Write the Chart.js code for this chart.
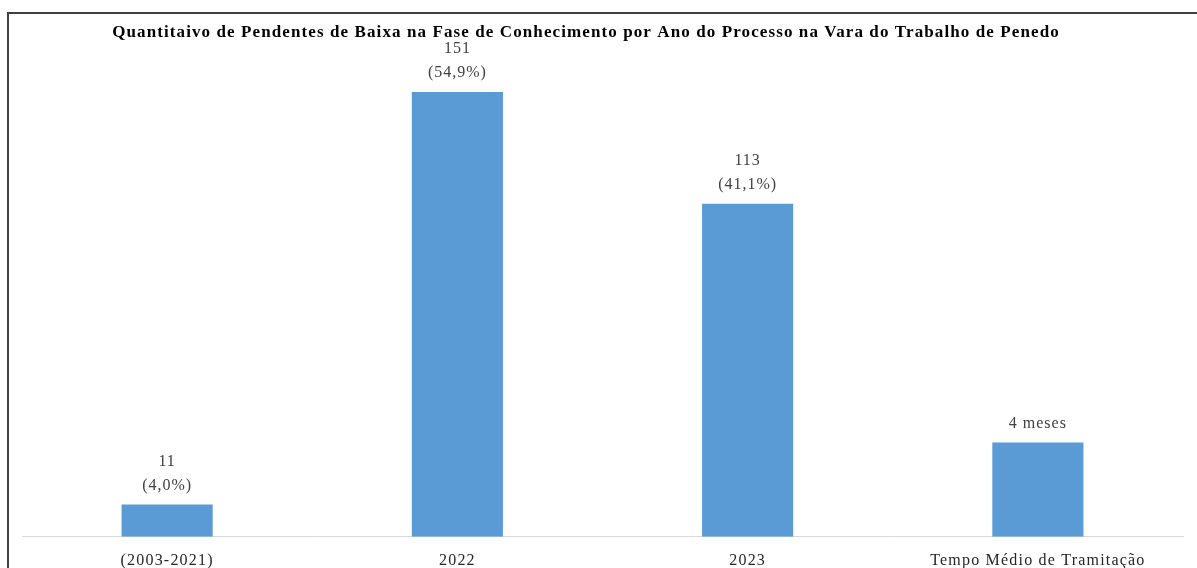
<!DOCTYPE html>
<html>
<head>
<meta charset="utf-8">
<script src="https://cdn.jsdelivr.net/npm/chart.js@4/dist/chart.umd.min.js"></script>
<style>
  html, body { margin: 0; padding: 0; background: #fff; overflow: hidden; }
  #wrap { position: relative; width: 1197px; height: 568px; overflow: hidden; }
  #frame {
    position: absolute; left: 7px; top: 12px; width: 1300px; height: 700px;
    border-left: 2px solid #404040; border-top: 2px solid #404040;
    pointer-events: none;
  }
  canvas { position: absolute; left: 0; top: 0; }
</style>
</head>
<body>
<div id="wrap">
  <canvas id="chart" width="1197" height="595" style="width:1197px;height:595px"></canvas>
  <div id="frame"></div>
</div>
<script>
// ---------------- DATA ----------------
const titleText = "Quantitaivo de Pendentes de Baixa na Fase de Conhecimento por Ano do Processo na Vara do Trabalho de Penedo";
const categories = ["(2003-2021)", "2022", "2023", "Tempo Médio de Tramitação"];
const values = [11, 151, 113, 32];
const valueLabels = [
    ["11", "(4,0%)"],
    ["151", "(54,9%)"],
    ["113", "(41,1%)"],
    ["4 meses"]
];

const serif = "'Liberation Serif', 'Times New Roman', serif";

// ---------------- TITLE + LABELS ON BARS ----------------
// title sits a little left of the plot centre in the reference, so draw it here
const overlay = {
    id: "overlay",
    afterDatasetsDraw(chart) {
        const ctx = chart.ctx;
        const meta = chart.getDatasetMeta(0);
        ctx.save();
        ctx.textAlign = "center";
        ctx.textBaseline = "middle";

        ctx.font = "bold 17px " + serif;
        ctx.letterSpacing = "1.1px";
        ctx.fillStyle = "#000";
        ctx.fillText(titleText, 586, 33);

        ctx.font = "16px " + serif;
        ctx.letterSpacing = "1px";
        ctx.fillStyle = "#404040";
        meta.data.forEach((bar, i) => {
            const lines = valueLabels[i];
            lines.forEach((txt, j) => {
                const y = bar.y - 19 - (lines.length - 1 - j) * 24;
                ctx.fillText(txt, bar.x, y);
            });
        });
        ctx.restore();
    }
};

// the reference text is spread out a bit wider than plain Times
const spacing = {
    id: "spacing",
    beforeLayout(chart) { chart.ctx.letterSpacing = "1.2px"; },
    beforeDraw(chart) { chart.ctx.letterSpacing = "1.2px"; }
};

// ---------------- CHART ----------------
new Chart(document.getElementById("chart"), {
    type: "bar",
    data: {
        labels: categories,
        datasets: [{
            data: values,
            backgroundColor: "#5B9BD5",
            categoryPercentage: 1,
            barPercentage: 0.314
        }]
    },
    options: {
        responsive: false,
        animation: false,
        layout: { padding: { left: 22, right: 14, top: 43, bottom: 11 } },
        plugins: {
            legend: { display: false },
            tooltip: { enabled: false },
            title: { display: false }
        },
        scales: {
            x: {
                grid: { display: false, drawTicks: false },
                border: { color: "#d9d9d9", width: 1 },
                ticks: {
                    color: "#262626",
                    padding: 14,
                    font: { family: serif, size: 16 }
                }
            },
            y: {
                display: false,
                min: 0,
                max: 167.6
            }
        }
    },
    plugins: [spacing, overlay]
});
</script>
</body>
</html>
